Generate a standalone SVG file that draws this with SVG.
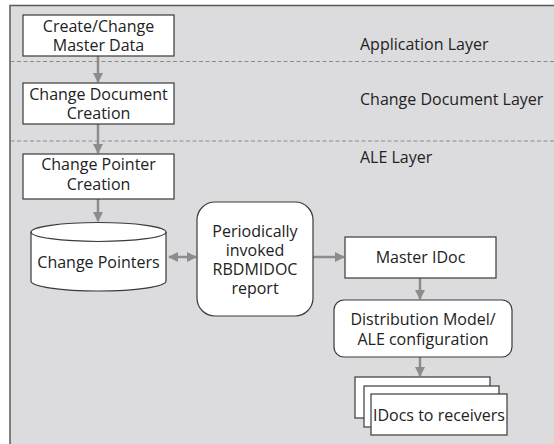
<svg xmlns="http://www.w3.org/2000/svg" width="554" height="444" viewBox="0 0 554 444">
  <style>
    text { font-family: "Open Sans", "Noto Sans", "Liberation Sans", sans-serif; font-size: 16px; fill: #222; }
    .c { text-anchor: middle; }
    .box { fill: #fff; stroke: #3a3a3a; stroke-width: 1.2; }
    .sep { stroke: #8a8a8a; stroke-width: 1.2; stroke-dasharray: 4 2.5; fill: none; }
    .link { stroke: #8c8c8c; stroke-width: 2.5; fill: none; }
  </style>
  <defs>
    <marker id="head" viewBox="0 0 10 10" refX="9" refY="5" markerWidth="4" markerHeight="4" orient="auto-start-reverse" markerUnits="strokeWidth">
      <path d="M0,0 L10,5 L0,10 Z" fill="#8c8c8c"/>
    </marker>
  </defs>

  <!-- background panel -->
  <rect x="10" y="5.5" width="560" height="450" fill="#dcdcdf" stroke="#5a5a5a" stroke-width="1.5"/>

  <!-- layer separators -->
  <line class="sep" x1="10.5" y1="61.5" x2="554" y2="61.5"/>
  <line class="sep" x1="10.5" y1="141" x2="554" y2="141"/>

  <!-- layer labels -->
  <text x="360" y="50">Application Layer</text>
  <text x="360" y="105">Change Document Layer</text>
  <text x="360" y="163">ALE Layer</text>

  <!-- connectors -->
  <g id="connectors">
    <line class="link" x1="98" y1="56" x2="98" y2="82" marker-end="url(#head)"/>
    <line class="link" x1="98" y1="124" x2="98" y2="153" marker-end="url(#head)"/>
    <line class="link" x1="98" y1="199" x2="98" y2="221" marker-end="url(#head)"/>
    <line class="link" x1="169" y1="257" x2="196" y2="257" marker-start="url(#head)" marker-end="url(#head)"/>
    <line class="link" x1="313" y1="257" x2="344" y2="257" marker-end="url(#head)"/>
    <line class="link" x1="420" y1="278" x2="420" y2="299" marker-end="url(#head)"/>
    <line class="link" x1="420" y1="357" x2="420" y2="376" marker-end="url(#head)"/>
  </g>

  <g id="master-data">
    <rect class="box" x="23" y="15" width="151" height="41"/>
    <text class="c" x="98.5" y="32">Create/Change</text>
    <text class="c" x="98.5" y="51">Master Data</text>
  </g>

  <g id="change-document">
    <rect class="box" x="23" y="83" width="151" height="41"/>
    <text class="c" x="98.5" y="100">Change Document</text>
    <text class="c" x="98.5" y="119">Creation</text>
  </g>

  <g id="change-pointer-creation">
    <rect class="box" x="23" y="154" width="151" height="45"/>
    <text class="c" x="98.5" y="170">Change Pointer</text>
    <text class="c" x="98.5" y="190">Creation</text>
  </g>

  <g id="change-pointers">
    <path class="box" d="M31,232 L31,281 A67.5,10 0 0 0 166,281 L166,232 A67.5,9.5 0 0 0 31,232 Z"/>
    <path d="M31,232 A67.5,9.5 0 0 0 166,232" fill="none" stroke="#3a3a3a" stroke-width="1.2"/>
    <text class="c" x="98.5" y="268">Change Pointers</text>
  </g>

  <g id="rbdmidoc-report">
    <rect class="box" x="197" y="202" width="116" height="114" rx="18"/>
    <text class="c" x="255" y="237">Periodically</text>
    <text class="c" x="255" y="256">invoked</text>
    <text class="c" x="255" y="275">RBDMIDOC</text>
    <text class="c" x="255" y="294">report</text>
  </g>

  <g id="master-idoc">
    <rect class="box" x="345" y="237" width="151" height="41"/>
    <text class="c" x="420.5" y="263">Master IDoc</text>
  </g>

  <g id="distribution-model">
    <rect class="box" x="334" y="300" width="178" height="57" rx="10"/>
    <text class="c" x="423" y="325">Distribution Model/</text>
    <text class="c" x="423" y="345">ALE configuration</text>
  </g>

  <g id="idocs-to-receivers">
    <rect class="box" x="355" y="377" width="135" height="41"/>
    <rect class="box" x="364" y="386" width="135" height="41"/>
    <rect class="box" x="371" y="394" width="136" height="41"/>
    <text class="c" x="439" y="421">IDocs to receivers</text>
  </g>
</svg>
